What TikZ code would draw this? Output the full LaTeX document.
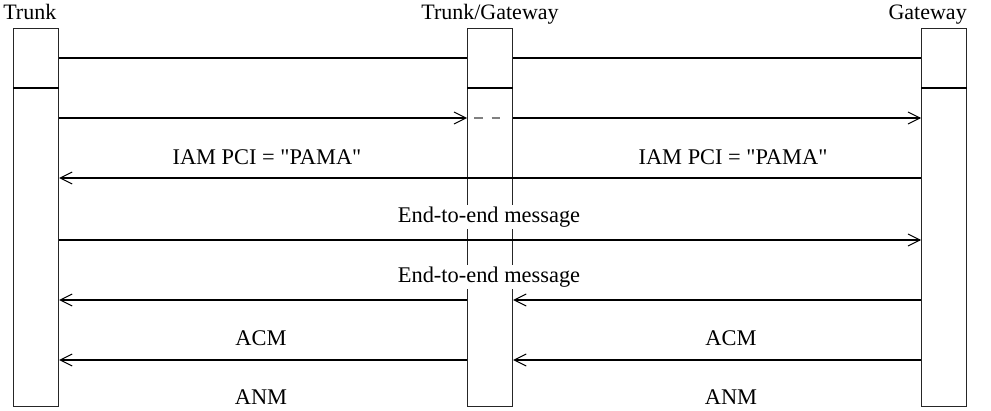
\documentclass[tikz,border=0pt]{standalone}
\usepackage{fontspec}
\setmainfont{Liberation Serif}
\usetikzlibrary{arrows.meta}
\begin{document}
\begin{tikzpicture}[x=0.75pt,y=-0.75pt,
  lifebox/.style={draw=black!85,line width=0.9pt,fill=white,minimum width=33.75pt,minimum height=283.5pt,inner sep=0pt,anchor=north west},
  msg/.style={line width=1.5pt},
  tip/.style={-{Straight Barb[length=9pt,width=9pt,line width=0.7pt]}},
  lbl/.style={font=\fontsize{16.8pt}{19pt}\selectfont,inner sep=1pt,fill=white},
  hdr/.style={font=\fontsize{16.5pt}{19pt}\selectfont,inner sep=0pt}]
\useasboundingbox (0,0) rectangle (991,410);
\node[lifebox] (T) at (13,28) {};
\node[lifebox] (TG) at (467,28) {};
\node[lifebox] (G) at (921,28) {};
\node[hdr,anchor=base west] (lT) at (3,20) {Trunk};
\node[hdr,anchor=base] (lTG) at (490,20) {Trunk/Gateway};
\node[hdr,anchor=base east] (lG) at (967,20) {Gateway};
% separators inside boxes
\foreach \b in {T,TG,G} \draw[line width=1.3pt] (\b.west |- 0,88) -- (\b.east |- 0,88);
% row 1
\draw[msg] (T.east |- 0,58) -- (TG.west |- 0,58);
\draw[msg] (TG.east |- 0,58) -- (G.west |- 0,58);
% row 2
\draw[msg,tip] (T.east |- 0,118) -- (TG.west |- 0,118);
\draw[msg,tip] (TG.east |- 0,118) -- (G.west |- 0,118);
\draw[gray,line width=1pt,dash pattern=on 6.5pt off 6.5pt] ([xshift=5.5pt]TG.west |- 0,118) -- ([xshift=-7pt]TG.east |- 0,118);
% IAM
\draw[msg,tip] (G.west |- 0,178) -- (T.east |- 0,178);
\node[lbl] (iam1) at (267,157) {IAM PCI = \textquotedbl PAMA\textquotedbl};
\node[lbl] (iam2) at (733,157) {IAM PCI = \textquotedbl PAMA\textquotedbl};
% end-to-end
\draw[msg,tip] (T.east |- 0,240) -- (G.west |- 0,240);
\node[lbl] (e1) at (489,217) {End-to-end message};
\draw[msg,tip] (G.west |- 0,300) -- (TG.east |- 0,300);
\draw[msg,tip] (TG.west |- 0,300) -- (T.east |- 0,300);
\node[lbl] (e2) at (489,277) {End-to-end message};
% ACM
\draw[msg,tip] (G.west |- 0,360) -- (TG.east |- 0,360);
\draw[msg,tip] (TG.west |- 0,360) -- (T.east |- 0,360);
\node[lbl] (acm1) at (261,338) {ACM};
\node[lbl] (acm2) at (731,338) {ACM};
% ANM
\node[lbl] (anm1) at (261,397) {ANM};
\node[lbl] (anm2) at (731,397) {ANM};
\end{tikzpicture}
\end{document}
